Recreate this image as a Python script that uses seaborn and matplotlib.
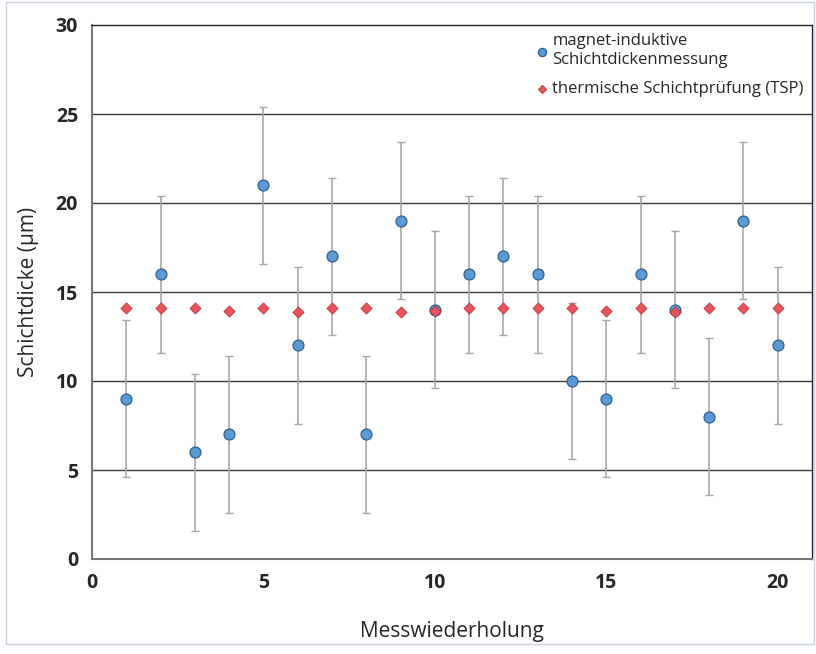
import numpy as np
import pandas as pd
import matplotlib.pyplot as plt
import seaborn as sns
from matplotlib.patches import Rectangle
from matplotlib.ticker import MultipleLocator

# Messwerte
messung = list(range(1, 21))
magnet = [9, 16, 6, 7, 21, 12, 17, 7, 19, 14, 16, 17, 16, 10, 9, 16, 14, 8, 19, 12]
magnet_err = [4.4] * 20
tsp = [14.1, 14.1, 14.1, 13.95, 14.1, 13.9, 14.1, 14.1, 13.9, 13.95,
       14.1, 14.1, 14.1, 14.1, 13.95, 14.1, 13.9, 14.1, 14.1, 14.1]

lbl_mag = 'magnet-induktive\nSchichtdickenmessung'
lbl_tsp = 'thermische Schichtprüfung (TSP)'

df = pd.DataFrame({'Messwiederholung': messung, 'magnet': magnet, 'tsp': tsp})

sns.set_theme(style='white')
plt.rcParams['font.family'] = ['Open Sans', 'DejaVu Sans']

fig = plt.figure(figsize=(8.16, 6.54), dpi=100)
ax = fig.add_axes([92 / 816, 95 / 654, 720 / 816, 534 / 654])

# Rahmen um die ganze Grafik
fig.patches.append(Rectangle((6 / 816, 10 / 654), 808 / 816, 642 / 654, transform=fig.transFigure,
                             fill=False, edgecolor='#c9d3e0', linewidth=1))

for y in [5, 10, 15, 20, 25]:
    ax.axhline(y, color='#3a3a3a', linewidth=1.0, zorder=1)

ax.errorbar(df['Messwiederholung'], df['magnet'], yerr=magnet_err, fmt='none',
            ecolor='#a8a8a8', elinewidth=1.2, capsize=3, capthick=1, zorder=2)

sns.scatterplot(data=df, x='Messwiederholung', y='magnet', ax=ax, marker='o', s=62,
                color='#5b9bd5', edgecolor='#2f5f8f', linewidth=0.9, zorder=4, label=lbl_mag)
sns.scatterplot(data=df, x='Messwiederholung', y='tsp', ax=ax, marker='D', s=32,
                color='#e8545a', edgecolor='#b8373c', linewidth=0.6, zorder=5, label=lbl_tsp)

ax.set_xlim(0, 21)
ax.set_ylim(0, 30)
ax.xaxis.set_major_locator(MultipleLocator(5))
ax.xaxis.set_minor_locator(MultipleLocator(1))
ax.yaxis.set_major_locator(MultipleLocator(5))
ax.yaxis.set_minor_locator(MultipleLocator(1))
ax.tick_params(axis='both', which='both', direction='in', color='#555555', labelsize=14, pad=10)
ax.tick_params(axis='both', which='major', length=0)
ax.tick_params(axis='both', which='minor', length=4, width=0.8)
for lab in ax.get_xticklabels() + ax.get_yticklabels():
    lab.set_fontweight('bold')

for side in ['left', 'bottom']:
    ax.spines[side].set_color('#777777')
    ax.spines[side].set_linewidth(1.5)
for side in ['top', 'right']:
    ax.spines[side].set_color('#222222')
    ax.spines[side].set_linewidth(1.0)

ax.set_xlabel('Messwiederholung', fontsize=15, labelpad=20)
ax.set_ylabel('Schichtdicke (µm)', fontsize=15, labelpad=12)

ax.legend(loc='upper right', bbox_to_anchor=(1.0, 1.0), frameon=False,
          fontsize=12, handletextpad=0.1, handlelength=1.0, markerscale=0.75,
          labelspacing=0.8, borderaxespad=0.1)

fig.savefig('out.png', dpi=100)
